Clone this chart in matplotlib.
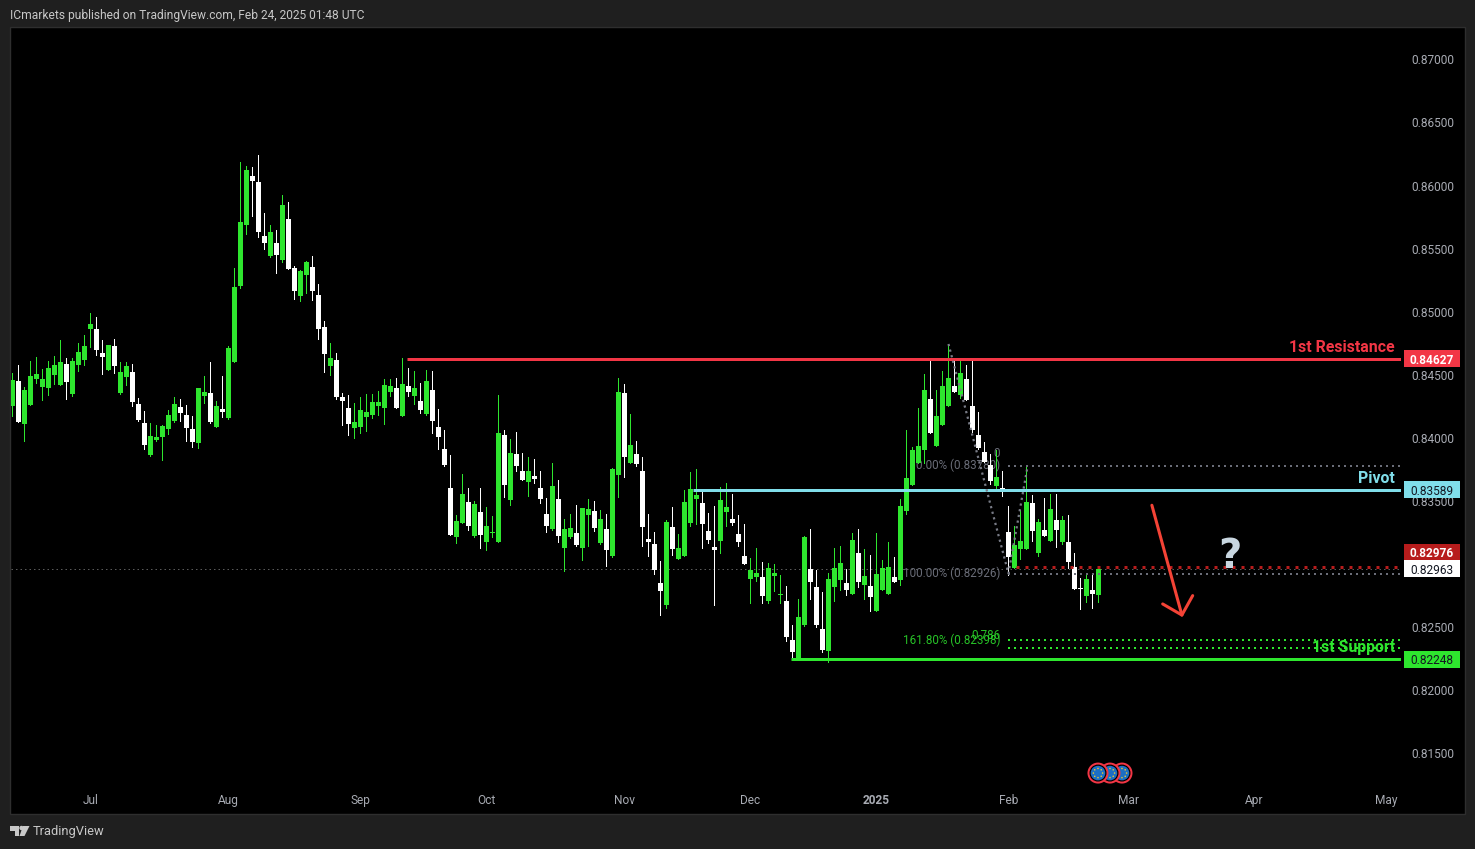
import numpy as np
import matplotlib
matplotlib.use("Agg")
import matplotlib.pyplot as plt
from matplotlib.patches import Rectangle, Circle, Polygon

W = 1475
H = 849

# prices in 1e-5 units
highs = [84512,84579,84404,84610,84642,84547,84610,84650,84777,84634,
84634,84753,84816,84991,84959,84777,84737,84785,84602,84602,
84587,84317,84214,84119,84103,84103,84222,84325,84309,84262,
84175,84396,84491,84602,84293,84491,84729,85347,86187,86155,
86147,86242,85783,85688,85648,85926,85870,85363,85331,85403,
85442,85220,84927,84753,84674,84357,84341,84277,84325,84349,
84349,84372,84468,84468,84475,84634,84555,84531,84436,84539,
84531,84230,84064,83865,83390,83715,83604,83501,83604,83453,
83382,84341,84064,83992,84048,83881,83850,83834,83739,83525,
83802,83667,83358,83398,83469,83445,83517,83501,83430,83398,
83762,84475,84428,84190,83976,83850,83398,83255,83026,83351,
83453,83239,83588,83731,83754,83580,83406,83461,83612,83644,
83556,83390,83319,83049,83128,83018,83010,83002,82915,82827,
82518,82725,83224,83279,82954,82780,82930,83128,83144,82962,
83247,83279,83121,83073,83247,83033,83176,83057,83517,84063,
83929,84238,84507,84631,84380,84531,84745,84626,84634,84578,
84618,84206,83968,83873,83905,83739,83461,83303,83430,83786,
83548,83358,83525,83556,83556,83382,83390,83089,82891,82923,
82923,82978]

lows = [84174,84127,83976,84262,84436,84301,84341,84428,84420,84309,
84333,84531,84579,84721,84658,84507,84539,84515,84349,84420,
84254,84135,83913,83858,83976,83826,84032,84127,84135,83976,
83929,83921,84278,84119,84087,84167,84151,84602,85189,85616,
85759,85593,85498,85434,85307,85395,85339,85102,85086,85149,
85094,84785,84523,84499,84309,84103,84024,84000,84040,84056,
84159,84182,84111,84333,84238,84174,84333,84269,84198,84182,
84040,83913,83778,83232,83168,83327,83271,83216,83129,83113,
83216,83176,83533,83469,83739,83667,83541,83644,83485,83255,
83271,83176,82946,83208,83144,83033,83144,83263,83160,82986,
83057,83533,83691,83802,83778,83144,83065,82923,82598,82653,
83073,83041,83065,83303,83319,83128,83168,82677,83089,83303,
83311,83144,83002,82693,82867,82693,82693,82788,82693,82392,
82249,82249,82510,82725,82503,82304,82225,82709,82796,82756,
82764,82820,82725,82629,82629,82796,82764,82859,82835,83398,
83628,83802,83802,84040,83937,84103,84254,84364,84317,84301,
84048,83913,83810,83636,83596,83540,82915,82970,83041,83121,
83184,83065,83224,83184,83136,83160,82970,82804,82645,82701,
82653,82701]

opens = [84254,84452,84111,84262,84468,84404,84396,84499,84420,84587,
84349,84579,84618,84864,84864,84674,84539,84729,84357,84484,
84523,84270,84119,83866,83984,84008,84072,84135,84246,84182,
84072,83961,84333,84357,84087,84230,84159,84602,85205,85688,
86076,86029,85601,85442,85545,85411,85735,85347,85125,85292,
85355,85133,84880,84571,84618,84325,84238,84079,84087,84166,
84182,84254,84238,84365,84396,84174,84412,84333,84293,84190,
84380,84087,83913,83604,83216,83327,83493,83224,83414,83176,
83247,83176,84024,83509,83873,83739,83651,83699,83604,83398,
83279,83517,83129,83216,83247,83129,83390,83422,83168,83279,
83065,83707,84357,83802,83873,83739,83200,83160,82851,82677,
83295,83041,83065,83327,83517,83485,83263,83136,83184,83414,
83358,83239,83065,82883,82899,82899,82709,82907,82756,82709,
82400,82249,82518,82962,82820,82487,82312,82820,82875,82851,
82764,83089,82835,82827,82629,82796,82764,82899,82875,83422,
83628,83802,83905,84309,83937,84103,84254,84412,84341,84468,
84254,84024,83889,83786,83620,83604,83255,82970,83121,83121,
83485,83089,83271,83184,83350,83176,83176,82978,82812,82748,
82796,82756]

closes = [84460,84127,84381,84491,84507,84468,84555,84579,84602,84444,
84610,84682,84729,84903,84697,84642,84737,84571,84523,84571,
84285,84143,83945,84016,84008,84095,84182,84270,84198,84079,
83969,84396,84365,84127,84254,84206,84713,85197,85712,86124,
86036,85632,85545,85632,85450,85846,85339,85165,85323,85395,
85165,84864,84666,84634,84325,84293,84111,84127,84222,84206,
84285,84285,84420,84412,84238,84428,84365,84396,84222,84452,
84135,84008,83786,83232,83342,83556,83303,83477,83232,83303,
83255,84040,83628,83881,83778,83667,83739,83675,83517,83303,
83620,83224,83279,83287,83152,83445,83437,83287,83358,83113,
83754,84365,83850,83945,83794,83295,83176,82954,82788,83335,
83121,83129,83493,83596,83548,83319,83192,83113,83509,83453,
83327,83176,83002,82954,82930,82748,82970,82930,82764,82423,
82304,82582,83216,82859,82518,82320,82883,82970,83010,82796,
83192,82859,82907,82740,82923,82970,82978,82859,83461,83683,
83905,83937,84380,84040,84174,84412,84475,84364,84515,84301,
84063,83921,83810,83659,83691,83596,83057,83152,83184,83493,
83263,83334,83224,83437,83271,83350,83018,82804,82804,82883,
82764,82962]

price_ticks = [0.815, 0.82, 0.825, 0.83, 0.835, 0.84, 0.845, 0.85, 0.855, 0.86, 0.865, 0.87]
month_pos = [13, 36, 58, 79, 102, 123, 144, 166, 186, 207, 229]
month_names = ["Jul", "Aug", "Sep", "Oct", "Nov", "Dec", "2025", "Feb", "Mar", "Apr", "May"]

resistance = 0.84627
pivot = 0.83589
support = 0.82248
last_price = 0.82963
bid_price = 0.82976
fib_top = 0.83780
fib_bottom = 0.82926
fib_1618 = 0.82398
fib_786 = 0.82336

zigzag_x = [156, 166, 169.2]
zigzag_y = [0.84745, 0.82926, 0.83780]

arrow_x = [189.9, 194.9]
arrow_y = [0.83467, 0.82597]
arrow_head_x = [191.7, 194.9, 196.7]
arrow_head_y = [0.82685, 0.82597, 0.82751]

event_x = [185, 183, 181]
event_y = 0.81345

GREEN = "#2ee62e"
RED = "#f23645"
CYAN = "#80deea"
GREY = "#6a6d78"
FONT = "Roboto"

plt.rcParams["font.family"] = [FONT, "DejaVu Sans"]


def fx(x):
    return x / W


def fy(y):
    return 1 - y / H


opens = np.array(opens) / 1e5
closes = np.array(closes) / 1e5
highs = np.array(highs) / 1e5
lows = np.array(lows) / 1e5
xs = np.arange(len(opens))

fig = plt.figure(figsize=(W / 100, H / 100), dpi=100, facecolor="#1f1f1f")
fig.add_artist(Rectangle((fx(10), fy(814)), 1455 / W, 787 / H, transform=fig.transFigure,
                         facecolor="#000000", edgecolor="#2e2e2e", linewidth=1, zorder=-1))

ax = fig.add_axes([fx(11), fy(787), 1390 / W, 760 / H])
ax.patch.set_alpha(0)
for s in ax.spines.values():
    s.set_visible(False)
ax.set_xlim(-0.25, 231.42)
ax.set_ylim(0.87 - (787 - 59.4) / 12620, 0.87 + (59.4 - 27) / 12620)

ax.yaxis.tick_right()
ax.set_yticks(price_ticks)
ax.set_yticklabels(["%.5f" % p for p in price_ticks])
ax.tick_params(axis="y", length=0, pad=7.4, labelsize=8.6, labelcolor="#a8abb3")
ax.set_xticks(month_pos)
ax.set_xticklabels(month_names)
ax.tick_params(axis="x", length=0, pad=5.2, labelsize=8.6, labelcolor="#a8abb3")
ax.get_xticklabels()[6].set_fontweight("bold")

# current price line sits under everything
ax.axhline(last_price, color="#5a5a5a", lw=0.72, ls=(0, (1.5, 3)), zorder=1)

up = closes >= opens
colors = np.where(up, GREEN, "#ffffff")
ax.vlines(xs, lows, highs, colors=colors, lw=0.72, zorder=3, antialiased=False)
ax.bar(xs, np.abs(closes - opens), bottom=np.minimum(opens, closes), width=5 / 6,
       color=colors, linewidth=0, zorder=3, antialiased=False)

# horizontal levels
ax.plot([65.7, 231.42], [resistance, resistance], color=RED, lw=2.16, solid_capstyle="butt", zorder=4)
ax.plot([113.4, 231.42], [pivot, pivot], color=CYAN, lw=2.16, solid_capstyle="butt", zorder=4)
ax.plot([129.8, 231.42], [support, support], color=GREEN, lw=2.16, solid_capstyle="butt", zorder=4)

# fib levels
dots = (0, (1, 2))
ax.plot([166, 231.2], [fib_top, fib_top], color=GREY, lw=1.44, ls=dots, zorder=4)
ax.plot([166, 231.2], [fib_bottom, fib_bottom], color=GREY, lw=1.44, ls=dots, zorder=4)
ax.plot([166, 231.2], [fib_1618, fib_1618], color=GREEN, lw=1.44, ls=dots, zorder=4)
ax.plot([166, 231.2], [fib_786, fib_786], color=GREEN, lw=1.44, ls=dots, zorder=4)
ax.plot([167.2, 231.2], [bid_price, bid_price], color="#b71c1c", lw=2.16, ls=dots, zorder=4)
ax.plot(zigzag_x, zigzag_y, color="#787b86", lw=1.6, ls=(0, (1, 1.6)), zorder=4)

ax.text(164.6, fib_top, "0.00% (0.83780)", ha="right", va="center", color=GREY, fontsize=8.4, zorder=2)
ax.text(164.6, fib_bottom, "100.00% (0.82926)", ha="right", va="center", color=GREY, fontsize=8.4, zorder=2)
ax.text(164.6, fib_1618, "161.80% (0.82398)", ha="right", va="center", color=GREEN, fontsize=8.4, zorder=2, alpha=0.85)
ax.text(164.6, fib_1618 + 0.00035, "0.786", ha="right", va="center", color=GREEN, fontsize=8.4, zorder=2, alpha=0.85)
ax.text(164.6, fib_top + 0.001, "0", ha="right", va="center", color=GREY, fontsize=8.4, zorder=2)

# arrow and question mark
ax.plot(arrow_x, arrow_y, color="#f44336", lw=2.2, solid_capstyle="round", zorder=5)
ax.plot(arrow_head_x, arrow_head_y, color="#f44336", lw=2.2, solid_joinstyle="round", solid_capstyle="round", zorder=5)
ax.text(202.9, 0.83059, "?", ha="center", va="center", color="#c8d6e0", fontsize=29,
        fontweight="bold", family="DejaVu Sans", zorder=5)

# level names
ax.text(230.4, resistance + 0.00088, "1st Resistance", ha="right", va="center", color=RED, fontsize=11.4, fontweight="bold", zorder=5)
ax.text(230.4, pivot + 0.00088, "Pivot", ha="right", va="center", color=CYAN, fontsize=11.4, fontweight="bold", zorder=5)
ax.text(230.4, support + 0.00088, "1st Support", ha="right", va="center", color=GREEN, fontsize=11.4, fontweight="bold", zorder=5)

fig.canvas.draw()


def price_y(price):
    # pixel row (from top) of a price on the axis
    return H - ax.transData.transform((0, price))[1]


def price_box(price, text, bg, fg, shift=0, bold=False):
    y = price_y(price) - shift
    fig.add_artist(Rectangle((fx(1404), fy(y + 8.5)), 56 / W, 17 / H, transform=fig.transFigure,
                             facecolor=bg, edgecolor="none", zorder=2))
    fig.text(fx(1432), fy(y), text, ha="center", va="center_baseline", color=fg, fontsize=8.6,
             fontweight="bold" if bold else "normal", zorder=3)


price_box(resistance, "0.84627", RED, "#ffffff", bold=True)
price_box(pivot, "0.83589", CYAN, "#131722")
price_box(bid_price, "0.82976", "#b71c1c", "#ffffff", shift=15, bold=True)
price_box(last_price, "0.82963", "#ffffff", "#131722")
price_box(support, "0.82248", GREEN, "#131722")

# event markers, right one first so the left one ends up on top
for ex in event_x:
    cx = ax.transData.transform((ex, event_y))[0] - 0.5
    cy = price_y(event_y)
    for r, c in [(10.5, "#f23645"), (8.5, "#000000"), (7.3, "#1c6fc4")]:
        fig.add_artist(Circle((cx, H - cy), r, transform=None, facecolor=c, edgecolor="none", zorder=2))
    for a in np.arange(0, 360, 45):
        px = cx + 4.6 * np.cos(np.radians(a))
        py = H - cy + 4.6 * np.sin(np.radians(a))
        fig.add_artist(Circle((px, py), 0.8, transform=None, facecolor="#e8c832", edgecolor="none", zorder=2))

fig.text(fx(10), fy(15), "ICmarkets published on TradingView.com, Feb 24, 2025 01:48 UTC",
         ha="left", va="center", color="#c8c8c8", fontsize=8.67)

# TradingView logo
logo = "#c8c8c8"
fig.add_artist(Polygon([(fx(10), fy(826)), (fx(19), fy(826)), (fx(19), fy(836)), (fx(15), fy(836)),
                        (fx(15), fy(830.5)), (fx(10), fy(830.5))], transform=fig.transFigure, facecolor=logo, edgecolor="none"))
fig.add_artist(Polygon([(fx(23), fy(826)), (fx(29.5), fy(826)), (fx(24.5), fy(836)), (fx(19.5), fy(836))],
                       transform=fig.transFigure, facecolor=logo, edgecolor="none"))
fig.add_artist(Circle((21.5, H - 828), 2.2, transform=None, facecolor=logo, edgecolor="none"))
fig.text(fx(33), fy(832), "TradingView", ha="left", va="center", color="#c8c8c8", fontsize=9.3)

fig.savefig("out.png", dpi=100, facecolor=fig.get_facecolor())
